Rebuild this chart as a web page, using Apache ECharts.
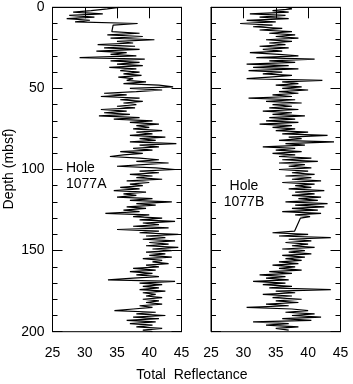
<!DOCTYPE html>
<html>
<head>
<meta charset="utf-8">
<script src="https://cdn.jsdelivr.net/npm/echarts@6/dist/echarts.min.js"></script>
<style>
  html, body { margin: 0; padding: 0; background: #fff; }
  #chart { width: 353px; height: 384px; }
</style>
</head>
<body>
<div id="chart"></div>
<script>
// Hole 1077A: depth (mbsf) and total reflectance, gap 11-15 m
const depthA = [
  0, 1, 2, 3, 4, 5, 6, 7, 8, 9, 10, 11,
  15, 16, 17, 18, 19, 20,
  21, 22, 23, 24, 25, 26, 27, 28, 29, 30,
  31, 32, 33, 34, 35, 36, 37, 38, 39, 40,
  41, 42, 43, 44, 45, 46, 47, 48, 49, 50,
  51, 52, 53, 54, 55, 56, 57, 58, 59, 60,
  61, 62, 63, 64, 65, 66, 67, 68, 69, 70,
  71, 72, 73, 74, 75, 76, 77, 78, 79, 80,
  81, 82, 83, 84, 85, 86, 87, 88, 89, 90,
  91, 92, 93, 94, 95, 96, 97, 98, 99, 100,
  101, 102, 103, 104, 105, 106, 107, 108, 109, 110,
  111, 112, 113, 114, 115, 116, 117, 118, 119, 120,
  121, 122, 123, 124, 125, 126, 127, 128, 129, 130,
  131, 132, 133, 134, 135, 136, 137, 138, 139, 140,
  141, 142, 143, 144, 145, 146, 147, 148, 149, 150,
  151, 152, 153, 154, 155, 156, 157, 158, 159, 160,
  161, 162, 163, 164, 165, 166, 167, 168, 169, 170,
  171, 172, 173, 174, 175, 176, 177, 178, 179, 180,
  181, 182, 183, 184, 185, 186, 187, 188, 189, 190,
  191, 192, 193, 194, 195, 196, 197, 198, 199, 200
];
const reflA = [
  35.3, 33.5, 31.0, 28.2, 32.8, 27.6, 31.5, 27.2, 30.8, 28.5, 38.2, 34.4,
  34.2, 38.5, 33.5, 39.0, 34.0, 40.8,
  35.0, 37.5, 32.0, 37.8, 33.0, 38.5, 31.8, 36.5, 34.0, 38.0,
  29.2, 39.3, 34.0, 38.5, 35.0, 39.0, 33.8, 38.0, 35.5, 38.5,
  36.0, 38.8, 35.2, 37.5, 36.5, 39.5, 36.0, 41.5, 43.7, 37.0,
  42.0, 38.0, 33.0, 36.5, 32.5, 38.5, 35.5, 39.0, 36.0, 38.0,
  35.0, 37.8, 32.5, 36.5, 33.0, 37.0, 32.2, 38.5, 34.5, 40.5,
  37.0, 41.5, 38.0, 40.0, 37.5, 42.0, 38.0, 40.5, 37.0, 42.5,
  38.5, 41.0, 37.0, 44.2, 38.5, 41.5, 37.5, 40.5, 35.5, 39.0,
  36.0, 33.9, 38.5, 41.5, 38.0, 43.0, 39.0, 35.0, 41.0, 44.0,
  38.5, 41.5, 37.0, 40.5, 38.0, 42.0, 36.5, 40.0, 37.0, 39.0,
  35.5, 38.5, 34.5, 39.5, 36.0, 38.0, 35.0, 40.5, 37.0, 43.5,
  38.0, 41.0, 36.5, 39.5, 36.0, 38.5, 33.2, 40.0, 37.5, 42.0,
  38.5, 44.0, 39.0, 41.5, 37.5, 43.0, 35.0, 41.5, 38.5, 44.5,
  39.5, 42.5, 39.0, 44.0, 40.0, 43.0, 39.5, 44.5, 40.5, 43.5,
  39.5, 42.5, 40.0, 43.5, 39.0, 42.0, 40.5, 43.0, 39.5, 41.5,
  37.5, 41.0, 37.0, 40.5, 38.0, 41.5, 37.5, 33.6, 44.0, 38.5,
  42.0, 39.0, 41.5, 38.5, 42.5, 39.0, 41.0, 39.5, 42.0, 39.0,
  41.5, 39.5, 42.0, 38.5, 40.5, 37.5, 34.6, 41.0, 38.0, 42.5,
  37.5, 41.5, 36.5, 41.0, 37.0, 40.5, 38.0, 42.0, 39.0, 40.5
];

// Hole 1077B, gap 130-138 m
const depthB = [
  0, 1, 2, 3, 4, 5, 6, 7, 8, 9,
  10, 11, 12, 13, 14, 15, 16, 17, 18, 19,
  20, 21, 22, 23, 24, 25, 26, 27, 28, 29,
  30, 31, 32, 33, 34, 35, 36, 37, 38, 39,
  40, 41, 42, 43, 44, 45, 46, 47, 48, 49,
  50, 51, 52, 53, 54, 55, 56, 57, 58, 59,
  60, 61, 62, 63, 64, 65, 66, 67, 68, 69,
  70, 71, 72, 73, 74, 75, 76, 77, 78, 79,
  80, 81, 82, 83, 84, 85, 86, 87, 88, 89,
  90, 91, 92, 93, 94, 95, 96, 97, 98, 99,
  100, 101, 102, 103, 104, 105, 106, 107, 108, 109,
  110, 111, 112, 113, 114, 115, 116, 117, 118, 119,
  120, 121, 122, 123, 124, 125, 126, 127, 128, 129,
  130, 138,
  139, 140, 141, 142, 143, 144, 145, 146, 147, 148,
  149, 150, 151, 152, 153, 154, 155, 156, 157, 158,
  159, 160, 161, 162, 163, 164, 165, 166, 167, 168,
  169, 170, 171, 172, 173, 174, 175, 176, 177, 178,
  179, 180, 181, 182, 183, 184, 185, 186, 187, 188,
  189, 190, 191, 192, 193, 194, 195, 196, 197, 198, 199
];
const reflB = [
  36.5, 37.5, 34.5, 37.0, 31.0, 36.5, 32.5, 37.0, 30.5, 35.0,
  29.5, 34.5, 31.5, 36.0, 32.5, 37.5, 34.0, 38.0, 35.0, 38.5,
  33.5, 37.5, 34.0, 36.5, 32.5, 37.0, 33.0, 36.0, 31.0, 35.5,
  38.5, 32.0, 41.0, 34.0, 38.0, 30.5, 37.0, 31.5, 38.5, 30.8,
  36.0, 33.0, 37.5, 34.0, 30.5, 42.2, 36.0, 38.5, 35.0, 39.0,
  36.0, 40.0, 35.5, 38.5, 34.5, 37.5, 30.8, 38.0, 33.5, 39.0,
  34.5, 37.5, 34.0, 38.5, 33.0, 37.5, 34.5, 39.5, 34.0, 38.0,
  33.5, 38.5, 32.5, 37.5, 34.5, 38.0, 35.0, 40.0, 36.0, 43.0,
  37.0, 39.0, 35.5, 44.0, 36.5, 39.5, 33.0, 38.0, 35.0, 39.0,
  34.5, 38.0, 35.5, 40.5, 36.0, 41.5, 35.5, 39.5, 37.0, 40.5,
  35.5, 40.0, 37.5, 41.0, 36.5, 40.5, 37.5, 42.0, 36.0, 41.0,
  38.0, 40.5, 37.0, 42.5, 38.0, 41.0, 37.5, 42.0, 38.5, 41.5,
  36.5, 43.0, 38.0, 42.5, 37.5, 41.5, 36.0, 42.0, 38.0, 40.3,
  38.8, 37.9,
  34.5, 40.0, 35.5, 43.5, 37.0, 40.5, 36.5, 40.0, 37.5, 41.0,
  36.0, 39.5, 37.0, 40.5, 36.0, 39.5, 36.5, 39.0, 35.5, 38.5,
  34.5, 38.0, 35.5, 39.0, 34.0, 37.5, 32.5, 36.5, 33.5, 37.0,
  31.5, 36.5, 33.0, 37.5, 34.0, 43.5, 35.0, 38.0, 33.0, 37.5,
  34.5, 39.0, 35.0, 38.5, 33.5, 37.0, 30.5, 37.5, 40.0, 36.5,
  41.0, 37.5, 42.0, 36.0, 40.5, 31.5, 37.0, 33.5, 38.5, 35.0, 37.0
];

const xTicks = [25, 30, 35, 40, 45];
const depthTicks = [0, 50, 100, 150, 200];

const FONT = '"Liberation Sans", Arial, Helvetica, sans-serif';
const chart = echarts.init(document.getElementById('chart'));

function pairs(xs, ys) {
  return xs.map((v, i) => [v, ys[i]]);
}

function xAxisFor(gridIndex) {
  return {
    gridIndex,
    type: 'value',
    min: xTicks[0],
    max: xTicks[xTicks.length - 1],
    interval: 5,
    axisLine: { lineStyle: { color: '#000', width: 1 } },
    axisTick: { inside: false, length: 11, lineStyle: { color: '#000' } },
    axisLabel: { color: '#000', fontSize: 14, fontFamily: FONT, margin: 14 },
    splitLine: { show: false },
  };
}

function yAxisFor(gridIndex, position, showLabel) {
  return {
    gridIndex,
    type: 'value',
    position,
    inverse: true,
    min: depthTicks[0],
    max: depthTicks[depthTicks.length - 1],
    interval: 50,
    axisLine: { show: true, lineStyle: { color: '#000', width: 1 } },
    axisTick: { inside: true, length: 10, lineStyle: { color: '#000' } },
    minorTick: { show: true, splitNumber: 5, length: 5, lineStyle: { color: '#000' } },
    axisLabel: { show: showLabel, color: '#000', fontSize: 14, fontFamily: FONT, margin: 8 },
    splitLine: { show: false },
  };
}

const option = {
  animation: false,
  backgroundColor: '#fff',
  grid: [
    { left: 52.5, top: 7.3, width: 129, height: 324.4, show: true, borderColor: '#000', borderWidth: 1 },
    { left: 211, top: 7.3, width: 129.5, height: 324.4, show: true, borderColor: '#000', borderWidth: 1 },
  ],
  xAxis: [xAxisFor(0), xAxisFor(1)],
  yAxis: [
    yAxisFor(0, 'left', true),
    yAxisFor(0, 'right', false),
    yAxisFor(1, 'left', false),
    yAxisFor(1, 'right', false),
  ],
  series: [
    {
      name: '1077A',
      type: 'line',
      xAxisIndex: 0,
      yAxisIndex: 0,
      data: pairs(reflA, depthA),
      showSymbol: false,
      lineStyle: { color: '#000', width: 1.2 },
    },
    {
      name: '1077B',
      type: 'line',
      xAxisIndex: 1,
      yAxisIndex: 2,
      data: pairs(reflB, depthB),
      showSymbol: false,
      lineStyle: { color: '#000', width: 1.2 },
    },
  ],
  graphic: [
    {
      type: 'text', x: 9, y: 169, rotation: Math.PI / 2,
      style: { text: 'Depth (mbsf)', font: '14px ' + FONT, fill: '#000', align: 'center', verticalAlign: 'middle' },
    },
    {
      type: 'text', x: 192, y: 375,
      style: { text: 'Total  Reflectance', font: '14px ' + FONT, fill: '#000', align: 'center', verticalAlign: 'middle' },
    },
    {
      type: 'text', x: 66, y: 160,
      style: { text: 'Hole\n1077A', font: '14px ' + FONT, fill: '#000', align: 'left', verticalAlign: 'top', lineHeight: 16 },
    },
    {
      type: 'text', x: 244, y: 178,
      style: { text: 'Hole\n1077B', font: '14px ' + FONT, fill: '#000', align: 'center', verticalAlign: 'top', lineHeight: 16 },
    },
  ],
};

chart.setOption(option);
</script>
</body>
</html>
